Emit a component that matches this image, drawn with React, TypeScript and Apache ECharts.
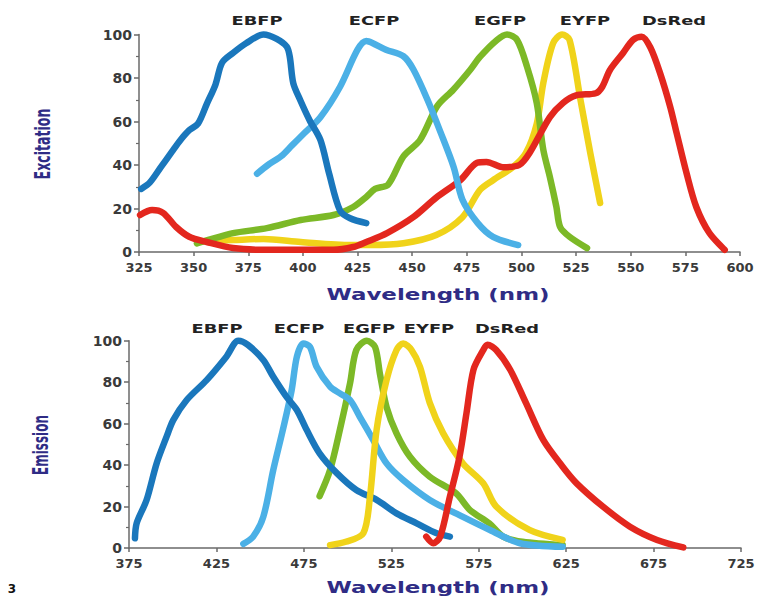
import React, { useEffect, useRef } from "react";
import * as echarts from "echarts";

// ---------- data ----------
const proteinNames = ["EBFP", "ECFP", "EGFP", "EYFP", "DsRed"];
const proteinColors = ["#1a77bc", "#4bb0e6", "#7cb927", "#f0d31a", "#e3271e"];

const excitationTicks = { min: 325, max: 600, interval: 25 };
const emissionTicks = { min: 375, max: 725, interval: 50 };

// Excitation spectra [wavelength nm, relative %]
const exEBFP = [
  [326, 29], [330, 32], [335, 39], [340, 46], [344, 51.5], [348, 56], [352, 59], [356, 68],
  [360, 77], [363, 87], [368, 91.5], [374, 96], [382, 100], [388, 98], [392.6, 94.4],
  [394, 89.7], [395.6, 77.6], [398.7, 70], [403, 60.7], [408, 51.5], [412, 36], [417, 19],
  [421.6, 15.5], [429, 13.3],
];
const exECFP = [
  [379, 36], [384, 40], [390, 44], [395, 49], [400, 54], [408, 62], [417, 76], [425, 93],
  [429, 97], [432, 96], [438, 93], [446, 90], [450.5, 84], [457, 70], [463, 55], [469, 39],
  [473, 24], [480, 13.3], [487, 7], [498.5, 3.2],
];
const exEGFP = [
  [351.5, 4], [360, 6.5], [368, 8.7], [383.5, 11], [399, 14.7], [414, 17], [423, 20.7],
  [429, 25.3], [433, 29], [439, 31], [446, 44], [453.6, 51.5], [461.4, 67], [468.7, 74.5],
  [476.5, 83.7], [481, 89.7], [488.8, 97.5], [493.4, 100], [498, 97.5], [502.6, 85],
  [507, 68.5], [510, 47], [513, 34.5], [516, 20.7], [517.7, 11.5], [522, 7], [530, 1.8],
];
const exEYFP = [
  [355, 5], [368, 5.5], [382, 6], [399, 4.6], [422, 3.2], [431, 3.2], [446, 4], [461, 7.8],
  [473, 16], [481, 28.5], [487, 33], [496, 39], [502, 45.5], [507, 59], [510, 77.7],
  [514.5, 96], [518.6, 100], [522, 97.5], [527, 70], [531.5, 45.5], [536, 22.5],
];
const exDsRed = [
  [325.5, 17], [331, 19.3], [336, 18], [342, 11.5], [348, 7], [356, 4.6], [368, 1.8],
  [383, 1], [399, 1], [414, 1], [423, 2.3], [429, 4.6], [438.5, 8.7], [450.5, 16], [461, 25],
  [472, 33], [479.7, 41], [484, 41.4], [491.5, 39], [499, 40], [503.7, 45.5], [513, 62],
  [519, 68.5], [525, 72], [534, 73], [537, 76], [540.5, 83.7], [546.5, 91.5], [551, 97.5],
  [555, 99], [559, 94], [563.5, 82], [568, 67], [571, 54.7], [575.6, 36], [580, 20.7],
  [586, 8.7], [593, 1],
];

// Emission spectra [wavelength nm, relative %]
const emEBFP = [
  [378.4, 4.7], [379.4, 12], [385, 23], [390.8, 40.8], [396.5, 53.7], [400.3, 61.7],
  [408, 71.4], [419.4, 81], [430.7, 92.3], [437.5, 100], [443, 98], [451.8, 90.7],
  [457.5, 82.6], [465, 73], [471, 66.6], [476.6, 57], [484, 45.7], [494, 36], [505, 28],
  [516.6, 23.2], [528, 16.7], [539.5, 11.9], [551, 7.1], [558.5, 5.5],
];
const emECFP = [
  [440.4, 2], [446, 5.5], [451.8, 15], [457.5, 37.6], [463, 57], [468, 76], [471, 92.3],
  [474.7, 98.7], [478.5, 97], [482.3, 87.4], [490, 77.8], [495.6, 74.6], [501.4, 71.4],
  [507, 63.3], [514.7, 52], [522.3, 40.8], [531.8, 32.8], [547, 23.2], [566, 15],
  [581.4, 8.7], [598.6, 2.3], [623, 0.6],
];
const emEGFP = [
  [484, 25], [490, 37.6], [495.6, 57], [501.4, 79.4], [505, 95.5], [511, 100], [515.7, 97],
  [518.5, 84], [522.3, 68], [528, 55.3], [535.7, 44], [547, 34.4], [562, 26.4], [570, 18.3],
  [581, 11.9], [589, 5.5], [600, 3], [623, 1.4],
];
const emEYFP = [
  [490, 1.4], [499, 3], [509, 7.1], [512.8, 24.7], [516.6, 57], [522.3, 81], [528, 95.5],
  [531.8, 98.7], [536.6, 95.5], [541.4, 87.4], [547, 70], [554.7, 55.3], [566, 40.8],
  [577.6, 31.2], [585, 20], [604, 8.7], [623, 3.9],
];
const emDsRed = [
  [545, 5.5], [549, 2.3], [553, 5.5], [558.5, 24.7], [564, 44], [568, 65], [572, 86],
  [577.6, 95.5], [580, 98], [585, 95.5], [593, 86], [602, 70], [612, 52], [623, 39.2],
  [631, 31.2], [646, 20], [661.5, 10.3], [677, 3.9], [692, 0.3],
];

const excitationData = [exEBFP, exECFP, exEGFP, exEYFP, exDsRed];
const emissionData = [emEBFP, emECFP, emEGFP, emEYFP, emDsRed];
// drawing order (later = on top)
const excitationOrder = [3, 2, 4, 1, 0];
const emissionOrder = [2, 1, 0, 3, 4];

// ---------- layout ----------
const NAVY = "#2f2c85";
const FONT = "'DejaVu Sans', sans-serif";
const topLabelX = [257, 374, 500, 585, 674];
const bottomLabelX = [217, 299, 369, 429, 507];

export default function App() {
  const ref = useRef<HTMLDivElement>(null);

  useEffect(() => {
    if (!ref.current) return;
    const chart = echarts.init(ref.current, null, { renderer: "svg" });

    const yAxisBase = (gridIndex: number) => ({
      type: "value",
      gridIndex,
      min: 0,
      max: 100,
      interval: 20,
      axisLine: { show: true, lineStyle: { color: "#6a6a6a", width: 1.5 } },
      axisTick: { show: true, length: 5, lineStyle: { color: "#6a6a6a", width: 1.5 } },
      minorTick: { show: true, splitNumber: 2, length: 3, lineStyle: { color: "#6a6a6a", width: 1.2 } },
      splitLine: { show: false },
      axisLabel: {
        margin: 7,
        fontFamily: FONT,
        fontWeight: "bold",
        fontSize: 14,
        lineHeight: 13,
        color: "#3a3a3a",
      },
    });

    const xAxisBase = (gridIndex: number, t: { min: number; max: number; interval: number }) => ({
      type: "value",
      gridIndex,
      min: t.min,
      max: t.max,
      interval: t.interval,
      axisLine: { show: true, onZero: false, lineStyle: { color: "#6a6a6a", width: 1.5 } },
      axisTick: { show: true, length: 4, lineStyle: { color: "#6a6a6a", width: 1.5 } },
      splitLine: { show: false },
      axisLabel: {
        margin: 9,
        fontFamily: FONT,
        fontWeight: "bold",
        fontSize: 13,
        lineHeight: 13,
        color: "#3a3a3a",
      },
    });

    const makeSeries = (datasets: number[][][], order: number[], axisIndex: number) =>
      order.map((i) => ({
        type: "line",
        name: proteinNames[i] + (axisIndex === 0 ? " excitation" : " emission"),
        xAxisIndex: axisIndex,
        yAxisIndex: axisIndex,
        data: datasets[i],
        showSymbol: false,
        symbol: "none",
        smooth: 0.3,
        clip: false,
        lineStyle: { color: proteinColors[i], width: 6.5, cap: "round", join: "round" },
        itemStyle: { color: proteinColors[i] },
      }));

    const labelText = (text: string, x: number, y: number) => ({
      type: "text",
      x,
      y,
      scaleX: 1.55,
      style: {
        text,
        fill: "#222222",
        font: `bold 11.5px ${FONT}`,
        align: "center",
        verticalAlign: "middle",
      },
    });

    const graphics: any[] = [];
    proteinNames.forEach((n, i) => graphics.push(labelText(n, topLabelX[i], 21)));
    proteinNames.forEach((n, i) => graphics.push(labelText(n, bottomLabelX[i], 329)));
    graphics.push(
      {
        type: "text",
        x: 43,
        y: 144,
        rotation: Math.PI / 2,
        scaleX: 0.6,
        style: { text: "Excitation", fill: NAVY, font: `bold 21px ${FONT}`, align: "center", verticalAlign: "middle" },
      },
      {
        type: "text",
        x: 41,
        y: 445,
        rotation: Math.PI / 2,
        scaleX: 0.57,
        style: { text: "Emission", fill: NAVY, font: `bold 21px ${FONT}`, align: "center", verticalAlign: "middle" },
      },
      {
        type: "text",
        x: 438,
        y: 295,
        scaleX: 1.53,
        style: { text: "Wavelength (nm)", fill: NAVY, font: `bold 15px ${FONT}`, align: "center", verticalAlign: "middle" },
      },
      {
        type: "text",
        x: 438,
        y: 588,
        scaleX: 1.53,
        style: { text: "Wavelength (nm)", fill: NAVY, font: `bold 15px ${FONT}`, align: "center", verticalAlign: "middle" },
      },
      {
        type: "text",
        x: 12,
        y: 589,
        style: { text: "3", fill: "#111111", font: `bold 12px ${FONT}`, align: "center", verticalAlign: "middle" },
      }
    );

    chart.setOption({
      animation: false,
      backgroundColor: "#ffffff",
      grid: [
        { left: 139, top: 34.5, width: 601, height: 217.5 },
        { left: 129, top: 340.7, width: 612, height: 207.3 },
      ],
      xAxis: [xAxisBase(0, excitationTicks), xAxisBase(1, emissionTicks)],
      yAxis: [yAxisBase(0), yAxisBase(1)],
      series: [
        ...makeSeries(excitationData, excitationOrder, 0),
        ...makeSeries(emissionData, emissionOrder, 1),
      ],
      graphic: graphics,
    });

    return () => chart.dispose();
  }, []);

  return (
    <div
      ref={ref}
      style={{ position: "absolute", left: 0, top: 0, width: 758, height: 599, background: "#fff" }}
    />
  );
}
